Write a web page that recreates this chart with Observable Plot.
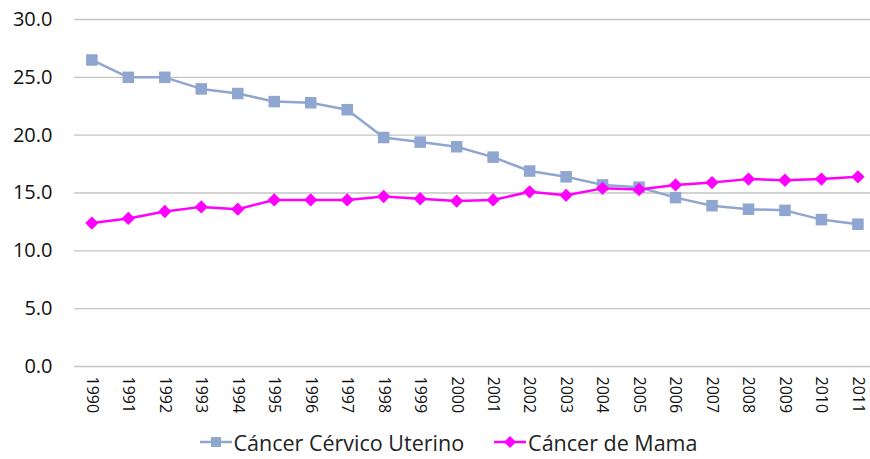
<!DOCTYPE html>
<html>
<head>
<meta charset="utf-8">
<script src="https://cdn.jsdelivr.net/npm/d3@7"></script>
<script src="https://cdn.jsdelivr.net/npm/@observablehq/plot@0.6"></script>
<style>
  html, body { margin: 0; padding: 0; background: #fff; }
  body { width: 870px; font-family: "Open Sans", sans-serif; }
  #legend { display: flex; justify-content: center; align-items: center; gap: 30px; font-size: 21.5px; color: #222; height: 34px; margin-left: 27px; }
  .item { display: flex; align-items: center; gap: 2px; }
</style>
</head>
<body>
<div id="chart"></div>
<div id="legend"></div>
<script>
const years = ["1990","1991","1992","1993","1994","1995","1996","1997","1998","1999","2000","2001","2002","2003","2004","2005","2006","2007","2008","2009","2010","2011"];
const cervico = [26.5,25.0,25.0,24.0,23.6,22.9,22.8,22.2,19.8,19.4,19.0,18.1,16.9,16.4,15.7,15.5,14.6,13.9,13.6,13.5,12.7,12.3];
const mama = [12.4,12.8,13.4,13.8,13.6,14.4,14.4,14.4,14.7,14.5,14.3,14.4,15.1,14.8,15.4,15.3,15.7,15.9,16.2,16.1,16.2,16.4];
const yTicks = [0,5,10,15,20,25,30];
const seriesNames = ["Cáncer Cérvico Uterino", "Cáncer de Mama"];
const seriesColors = ["#8FA6D0", "#FF00FF"];

const data = [];
years.forEach((y, i) => {
  data.push({year: y, value: cervico[i], serie: seriesNames[0]});
  data.push({year: y, value: mama[i], serie: seriesNames[1]});
});
const dC = data.filter(d => d.serie === seriesNames[0]);
const dM = data.filter(d => d.serie === seriesNames[1]);

const chart = Plot.plot({
  width: 870,
  height: 425,
  marginLeft: 74,
  marginRight: 0,
  marginTop: 19,
  marginBottom: 59,
  style: {fontFamily: "Open Sans, sans-serif", background: "#fff"},
  x: {type: "point", domain: years, padding: 0.41, align: 0.58, round: false, label: null},
  y: {domain: [0, 30], label: null},
  marks: [
    Plot.ruleY(yTicks, {stroke: "#c4c4c4", strokeWidth: 1.3}),
    Plot.ruleX([0], {frameAnchor: "left", stroke: "#c4c4c4", strokeWidth: 1.3}),
    Plot.axisY({ticks: yTicks, tickSize: 0, tickPadding: 22, tickFormat: d => d.toFixed(1), fontSize: 20, fill: "#111"}),
    Plot.axisX({tickSize: 0, tickPadding: 10, tickRotate: 90, fontSize: 16, fill: "#111"}),
    Plot.line(dC, {x: "year", y: "value", stroke: seriesColors[0], strokeWidth: 2.5}),
    Plot.dot(dC, {x: "year", y: "value", symbol: "square", r: 6.5, fill: seriesColors[0]}),
    Plot.line(dM, {x: "year", y: "value", stroke: seriesColors[1], strokeWidth: 2.5}),
    Plot.dot(dM, {x: "year", y: "value", symbol: "diamond2", r: 6, fill: seriesColors[1]})
  ]
});
document.getElementById("chart").appendChild(chart);

const legend = document.getElementById("legend");
seriesNames.forEach((name, i) => {
  const item = document.createElement("div");
  item.className = "item";
  const sw = i === 0
    ? `<svg width="32" height="14"><line x1="0" y1="7" x2="32" y2="7" stroke="${seriesColors[i]}" stroke-width="2.5"/><rect x="11" y="2" width="10" height="10" fill="${seriesColors[i]}"/></svg>`
    : `<svg width="32" height="14"><line x1="0" y1="7" x2="32" y2="7" stroke="${seriesColors[i]}" stroke-width="2.5"/><path d="M16 1 L22 7 L16 13 L10 7 Z" fill="${seriesColors[i]}"/></svg>`;
  item.innerHTML = sw + `<span>${name}</span>`;
  legend.appendChild(item);
});
</script>
</body>
</html>
